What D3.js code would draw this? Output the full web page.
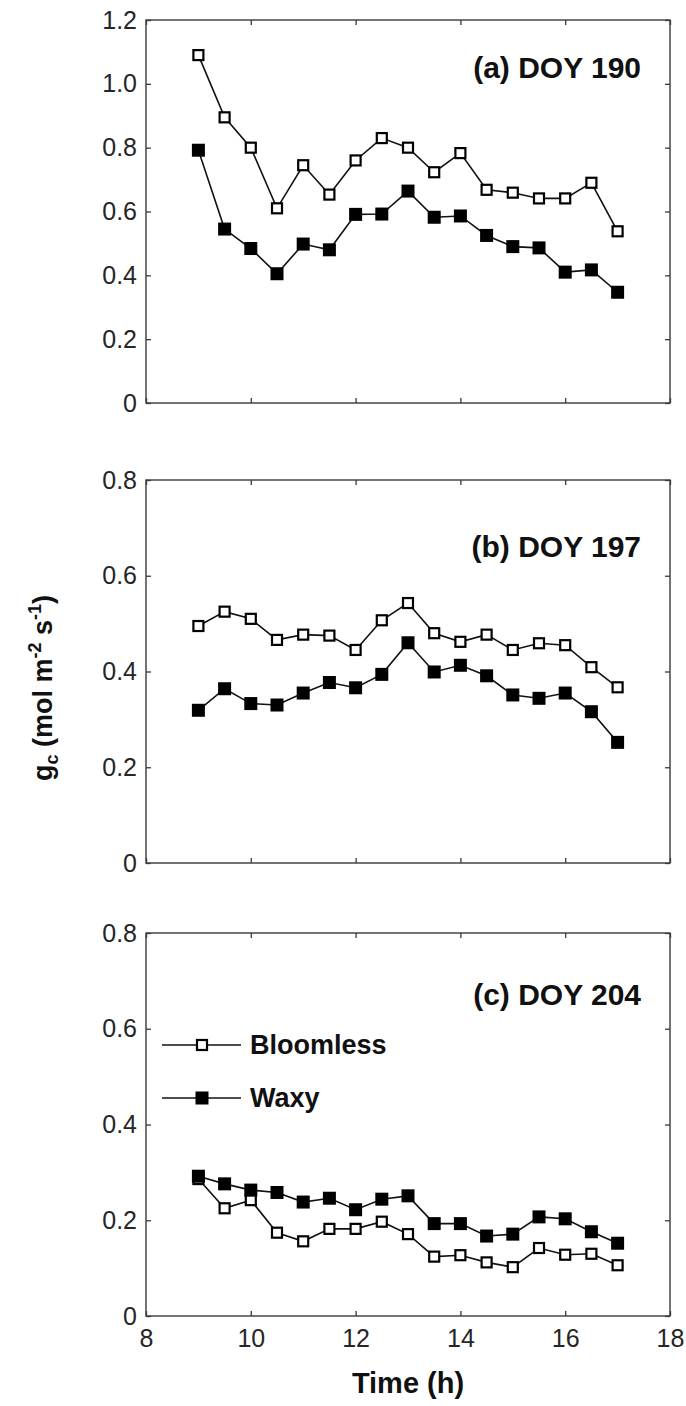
<!DOCTYPE html>
<html>
<head>
<meta http-equiv="Content-type" content="text/html; charset=utf-8">
<title>gc by time of day</title>
<script src="https://cdn.jsdelivr.net/npm/d3@7"></script>
<style>
  body { margin: 0; background: #fff; }
  svg { display: block; font-family: "Liberation Sans", Arial, sans-serif; }
</style>
</head>
<body>
<script type="text/javascript">

// half-hourly sampling times (h)
var hours = [9, 9.5, 10, 10.5, 11, 11.5, 12, 12.5, 13, 13.5, 14, 14.5, 15, 15.5, 16, 16.5, 17];
var xTicks = [8, 10, 12, 14, 16, 18];

// canopy conductance, mol m-2 s-1
var bloomA = [1.09, 0.895, 0.80, 0.61, 0.745, 0.653, 0.76, 0.83, 0.80, 0.723, 0.783, 0.668, 0.659, 0.641, 0.641, 0.69, 0.538];
var waxyA  = [0.792, 0.545, 0.484, 0.405, 0.498, 0.48, 0.591, 0.592, 0.664, 0.582, 0.586, 0.525, 0.49, 0.486, 0.41, 0.417, 0.347];

var bloomB = [0.495, 0.525, 0.51, 0.466, 0.477, 0.475, 0.445, 0.507, 0.543, 0.48, 0.462, 0.477, 0.445, 0.459, 0.455, 0.409, 0.367];
var waxyB  = [0.319, 0.364, 0.333, 0.33, 0.355, 0.377, 0.366, 0.394, 0.46, 0.399, 0.413, 0.391, 0.351, 0.344, 0.355, 0.316, 0.252];

var bloomC = [0.286, 0.225, 0.242, 0.174, 0.156, 0.182, 0.182, 0.197, 0.171, 0.124, 0.127, 0.112, 0.102, 0.142, 0.128, 0.13, 0.106];
var waxyC  = [0.292, 0.276, 0.263, 0.258, 0.238, 0.246, 0.222, 0.244, 0.251, 0.193, 0.193, 0.167, 0.171, 0.207, 0.203, 0.176, 0.152];

var yTicksA = [0, 0.2, 0.4, 0.6, 0.8, 1.0, 1.2];
var yTicksBC = [0, 0.2, 0.4, 0.6, 0.8];

var titles = ["(a) DOY 190", "(b) DOY 197", "(c) DOY 204"];
var seriesNames = ["Bloomless", "Waxy"];

var W = 686, H = 1406;
var left = 146, right = 670;
var frameColor = "#3a3a3a";

var panels = [
  {top: 20,  bottom: 403,  ymax: 1.2, ticks: yTicksA,  bloom: bloomA, waxy: waxyA, title: titles[0], titleY: 78},
  {top: 480, bottom: 863,  ymax: 0.8, ticks: yTicksBC, bloom: bloomB, waxy: waxyB, title: titles[1], titleY: 557},
  {top: 933, bottom: 1316, ymax: 0.8, ticks: yTicksBC, bloom: bloomC, waxy: waxyC, title: titles[2], titleY: 1005}
];

var svg = d3.select("body").append("svg").attr("width", W).attr("height", H);

var x = d3.scaleLinear().domain([8, 18]).range([left, right]);

function fmt(d) { return d === 0 ? "0" : d.toFixed(1); }

function drawPanel(p, i) {
  var y = d3.scaleLinear().domain([0, p.ymax]).range([p.bottom, p.top]);
  var g = svg.append("g");
  var last = (i === panels.length - 1);

  g.append("rect")
    .attr("x", left).attr("y", p.top)
    .attr("width", right - left).attr("height", p.bottom - p.top)
    .attr("fill", "none").attr("stroke", frameColor).attr("stroke-width", 1.4);

  var ax = [
    g.append("g").attr("transform", "translate(0," + p.bottom + ")")
      .call(d3.axisBottom(x).tickValues(xTicks).tickSizeInner(-5).tickSizeOuter(0).tickPadding(13)
        .tickFormat(last ? d3.format("d") : "")),
    g.append("g").attr("transform", "translate(0," + p.top + ")")
      .call(d3.axisTop(x).tickValues(xTicks).tickSizeInner(-5).tickSizeOuter(0).tickFormat("")),
    g.append("g").attr("transform", "translate(" + left + ",0)")
      .call(d3.axisLeft(y).tickValues(p.ticks).tickSizeInner(-5).tickSizeOuter(0).tickPadding(9).tickFormat(fmt)),
    g.append("g").attr("transform", "translate(" + right + ",0)")
      .call(d3.axisRight(y).tickValues(p.ticks).tickSizeInner(-5).tickSizeOuter(0).tickFormat(""))
  ];
  ax.forEach(function (a) {
    a.select(".domain").remove();
    a.selectAll(".tick line").attr("stroke", frameColor).attr("stroke-width", 1.3);
    a.selectAll(".tick text").attr("font-size", 25).attr("fill", "#262626")
      .attr("font-family", "'Liberation Sans', Arial, sans-serif");
  });

  var line = d3.line().x(function (d, k) { return x(hours[k]); }).y(function (d) { return y(d); });

  [p.bloom, p.waxy].forEach(function (vals) {
    g.append("path").datum(vals)
      .attr("d", line).attr("fill", "none")
      .attr("stroke", "#111").attr("stroke-width", 1.6);
  });

  // open squares first so the filled ones sit on top where they overlap
  g.selectAll(".open").data(p.bloom).enter().append("rect")
    .attr("class", "open")
    .attr("x", function (d, k) { return x(hours[k]) - 5; })
    .attr("y", function (d) { return y(d) - 5; })
    .attr("width", 10).attr("height", 10)
    .attr("fill", "#fff").attr("stroke", "#000").attr("stroke-width", 2.2);

  g.selectAll(".filled").data(p.waxy).enter().append("rect")
    .attr("class", "filled")
    .attr("x", function (d, k) { return x(hours[k]) - 6.5; })
    .attr("y", function (d) { return y(d) - 6.5; })
    .attr("width", 13).attr("height", 13)
    .attr("fill", "#000");

  g.append("text")
    .attr("x", 641).attr("y", p.titleY)
    .attr("text-anchor", "end")
    .attr("font-size", 30).attr("font-weight", "bold").attr("fill", "#111")
    .text(p.title);
}

panels.forEach(drawPanel);

// legend inside the bottom panel
var legendRows = [{name: seriesNames[0], y: 1045, open: true}, {name: seriesNames[1], y: 1098, open: false}];
var lg = svg.append("g");
legendRows.forEach(function (r) {
  lg.append("line").attr("x1", 162).attr("x2", 241).attr("y1", r.y).attr("y2", r.y)
    .attr("stroke", "#111").attr("stroke-width", 1.6);
  if (r.open) {
    lg.append("rect").attr("x", 197).attr("y", r.y - 5).attr("width", 10).attr("height", 10)
      .attr("fill", "#fff").attr("stroke", "#000").attr("stroke-width", 2.2);
  } else {
    lg.append("rect").attr("x", 195.5).attr("y", r.y - 6.5).attr("width", 13).attr("height", 13)
      .attr("fill", "#000");
  }
  lg.append("text").attr("x", 250).attr("y", r.y + 9)
    .attr("font-size", 27).attr("font-weight", "bold").attr("fill", "#111")
    .text(r.name);
});

// axis titles
svg.append("text")
  .attr("x", 408).attr("y", 1393)
  .attr("text-anchor", "middle")
  .attr("font-size", 29).attr("font-weight", "bold").attr("fill", "#111")
  .text("Time (h)");

var yt = svg.append("text")
  .attr("transform", "translate(52,688) rotate(-90)")
  .attr("text-anchor", "middle")
  .attr("font-size", 27).attr("font-weight", "bold").attr("fill", "#111");
yt.append("tspan").text("g");
yt.append("tspan").attr("font-size", 18).attr("dy", 6).text("c");
yt.append("tspan").attr("dy", -6).text(" (mol m");
yt.append("tspan").attr("font-size", 18).attr("dy", -11).text("-2");
yt.append("tspan").attr("dy", 11).text(" s");
yt.append("tspan").attr("font-size", 18).attr("dy", -11).text("-1");
yt.append("tspan").attr("dy", 11).text(")");

</script>
</body>
</html>
